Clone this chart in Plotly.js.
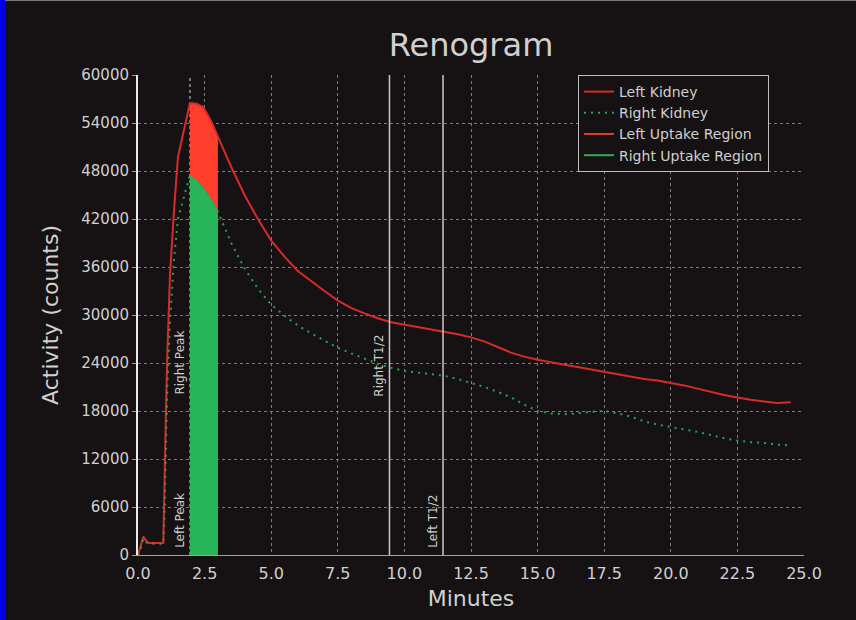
<!DOCTYPE html>
<html>
<head>
<meta charset="utf-8">
<script src="https://cdn.plot.ly/plotly-3.0.1.min.js"></script>
<style>
  html, body { margin: 0; padding: 0; background: rgb(22,17,19); }
  #wrap { position: relative; width: 856px; height: 620px; overflow: hidden; background: rgb(22,17,19); }
  #blue { position: absolute; left: 0; top: 0; width: 5px; height: 620px; background: rgb(0,0,235); z-index: 2; }
  #topline { position: absolute; left: 0; top: 0; width: 856px; height: 1px; background: rgb(120,120,120); z-index: 2; }
  #chart { position: absolute; left: 0; top: 0; width: 856px; height: 620px; }
</style>
</head>
<body>
<div id="wrap">
  <div id="chart"></div>
  <div id="topline"></div>
  <div id="blue"></div>
</div>
<script>
// ---- data ----
var minutes = [0, 0.1, 0.2, 0.3, 0.4, 0.95, 1.0, 1.05, 1.1, 1.2, 1.35, 1.5, 1.95, 2.2, 2.45, 2.75, 3.0,
  3.5, 4, 4.5, 5, 5.5, 6, 6.5, 7, 7.5, 8, 8.5, 9, 9.5, 10, 10.5, 11, 11.5, 12, 12.5, 13, 13.5, 14, 14.5,
  15, 15.5, 16, 16.5, 17, 17.5, 18, 18.5, 19, 19.5, 20, 20.5, 21, 21.5, 22, 22.5, 23, 23.5, 24, 24.5];

var leftKidney = [0, 1000, 2300, 1800, 1500, 1500, 8000, 18000, 25000, 35000, 43000, 49750, 56500, 56400, 56000, 54200, 52300,
  48500, 45000, 42000, 39300, 37300, 35500, 34200, 33000, 31800, 30900, 30200, 29600, 29100, 28800, 28500, 28200, 27900, 27600, 27200, 26700, 26000, 25300, 24800,
  24400, 24100, 23800, 23500, 23200, 22900, 22600, 22300, 22000, 21800, 21500, 21200, 20800, 20400, 20000, 19700, 19400, 19200, 19000, 19100];

var rightKidney = [0, 800, 2000, 1600, 1400, 1400, 6000, 14000, 21000, 29000, 37000, 42000, 47500, 46800, 45900, 44500, 42900,
  39000, 35800, 33300, 31300, 29900, 28700, 27700, 26800, 25900, 25200, 24500, 23900, 23400, 23000, 22800, 22600, 22400, 22000, 21500, 21000, 20400, 19700, 18800,
  18000, 17700, 17600, 17700, 17900, 18000, 17700, 17300, 16700, 16300, 16000, 15700, 15400, 15000, 14600, 14300, 14100, 14000, 13800, 13700];

var uptakeStart = 1.95;   // minutes (peak)
var uptakeEnd = 3.0;      // minutes

var eventNames = ['Left Peak', 'Right Peak', 'Right T1/2', 'Left T1/2'];
var eventTimes = [1.95, 1.95, 9.44, 11.45];

var xTickVals = [0, 2.5, 5, 7.5, 10, 12.5, 15, 17.5, 20, 22.5, 25];
var xTickText = ['0.0', '2.5', '5.0', '7.5', '10.0', '12.5', '15.0', '17.5', '20.0', '22.5', '25.0'];
var yTickVals = [0, 6000, 12000, 18000, 24000, 30000, 36000, 42000, 48000, 54000, 60000];
var yTickText = ['0', '6000', '12000', '18000', '24000', '30000', '36000', '42000', '48000', '54000', '60000'];

// ---- styles ----
var FONT = 'DejaVu Sans, sans-serif';
var TXT = 'rgb(208,208,208)';
var RED_LINE = 'rgb(214,44,40)';
var GREEN_LINE = 'rgb(45,160,85)';
var RED_FILL = 'rgb(255,62,46)';
var GREEN_FILL = 'rgb(40,180,88)';

function window_(xs, ys) {
  var ox = [], oy = [];
  for (var i = 0; i < xs.length; i++) {
    if (xs[i] >= uptakeStart && xs[i] <= uptakeEnd) { ox.push(xs[i]); oy.push(ys[i]); }
  }
  return {x: ox, y: oy};
}
var lu = window_(minutes, leftKidney);
var ru = window_(minutes, rightKidney);

var traces = [
  {x: lu.x, y: lu.y, type: 'scatter', mode: 'lines', fill: 'tozeroy', fillcolor: RED_FILL,
   line: {color: RED_FILL, width: 0.5}, showlegend: false, hoverinfo: 'skip'},
  {x: ru.x, y: ru.y, type: 'scatter', mode: 'lines', fill: 'tozeroy', fillcolor: GREEN_FILL,
   line: {color: GREEN_FILL, width: 0.5}, showlegend: false, hoverinfo: 'skip'},
  {x: minutes, y: leftKidney, type: 'scatter', mode: 'lines', name: 'Left Kidney',
   line: {color: RED_LINE, width: 2}},
  {x: minutes, y: rightKidney, type: 'scatter', mode: 'lines', name: 'Right Kidney',
   line: {color: GREEN_LINE, width: 2, dash: '2px,5px'}},
  {x: [null], y: [null], type: 'scatter', mode: 'lines', name: 'Left Uptake Region',
   line: {color: 'rgb(225,60,50)', width: 2}},
  {x: [null], y: [null], type: 'scatter', mode: 'lines', name: 'Right Uptake Region',
   line: {color: 'rgb(50,170,90)', width: 2}}
];

var labelBottoms = [700, 19800, 19600, 600];
var shapes = [], annotations = [];
for (var i = 0; i < eventNames.length; i++) {
  var isPeak = i < 2;
  shapes.push({type: 'line', xref: 'x', yref: 'paper', x0: eventTimes[i], x1: eventTimes[i], y0: 0, y1: 1,
    line: {color: isPeak ? 'rgb(150,150,150)' : 'rgb(200,200,200)', width: isPeak ? 1 : 1.5, dash: isPeak ? 'dot' : 'solid'},
    layer: isPeak ? 'below' : 'above'});
  annotations.push({x: eventTimes[i], y: labelBottoms[i], xref: 'x', yref: 'y', text: eventNames[i],
    textangle: -90, showarrow: false, xanchor: 'right', yanchor: 'bottom', xshift: -1,
    font: {family: FONT, size: 12, color: TXT}});
}

var layout = {
  width: 856, height: 620,
  paper_bgcolor: 'rgba(0,0,0,0)', plot_bgcolor: 'rgb(22,17,19)',
  margin: {l: 138, r: 52, t: 75, b: 65},
  font: {family: FONT, color: TXT},
  title: {text: 'Renogram', x: 0.5, xref: 'paper', y: 1 - 45 / 620, yanchor: 'middle',
    font: {family: FONT, size: 32, color: TXT}},
  xaxis: {range: [0, 25], tickvals: xTickVals, ticktext: xTickText, ticks: '', showline: true,
    linecolor: 'rgb(160,160,160)', linewidth: 1, showgrid: true, gridcolor: 'rgb(125,125,125)', griddash: 'dot', gridwidth: 1,
    zeroline: false, tickfont: {family: FONT, size: 16, color: TXT}, ticklabelstandoff: 4,
    title: {text: 'Minutes', font: {family: FONT, size: 22, color: TXT}, standoff: 8}, automargin: false},
  yaxis: {range: [0, 60000], tickvals: yTickVals, ticktext: yTickText, ticks: 'outside', ticklen: 4, tickcolor: 'rgb(160,160,160)',
    showline: true, linecolor: 'rgb(235,235,235)', linewidth: 2, showgrid: true, gridcolor: 'rgb(125,125,125)', griddash: 'dot', gridwidth: 1,
    zeroline: false, tickfont: {family: FONT, size: 15, color: TXT},
    title: {text: 'Activity (counts)', font: {family: FONT, size: 22, color: TXT}, standoff: 17}, automargin: false},
  legend: {x: (578 - 138) / 666, y: 1, xanchor: 'left', yanchor: 'top', bgcolor: 'rgb(22,17,19)',
    bordercolor: 'rgb(190,190,190)', borderwidth: 1, font: {family: FONT, size: 14, color: TXT},
    tracegroupgap: 0, entrywidth: 200, entrywidthmode: 'pixels'},
  shapes: shapes, annotations: annotations, showlegend: true
};

Plotly.newPlot('chart', traces, layout, {displayModeBar: false, staticPlot: true});
</script>
</body>
</html>
